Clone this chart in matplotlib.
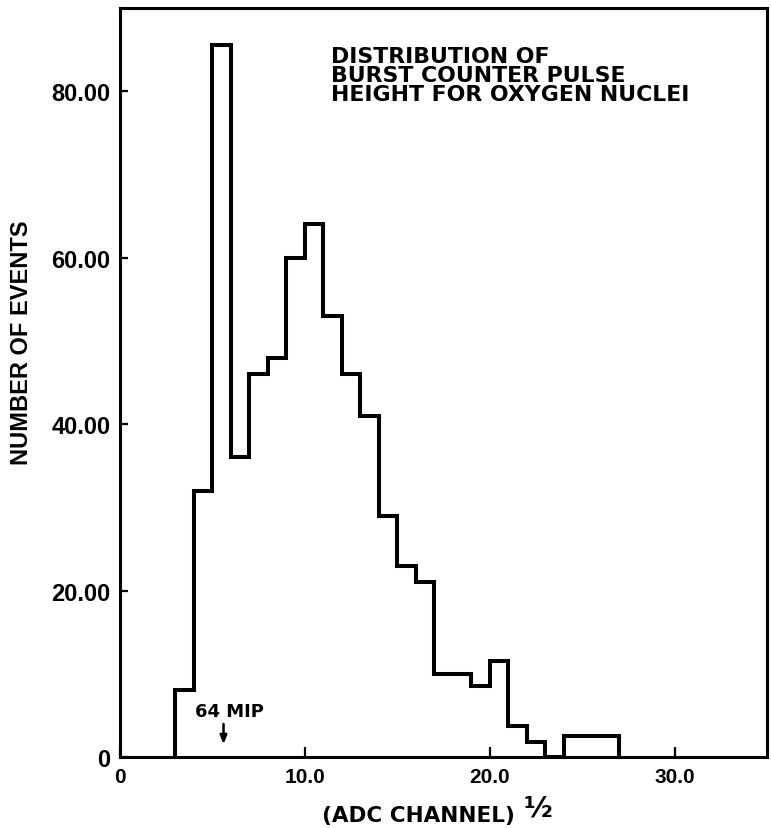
import matplotlib
matplotlib.use("Agg")
import matplotlib.pyplot as plt

plt.rcParams['font.family'] = ['Liberation Sans', 'DejaVu Sans']
plt.rcParams['font.weight'] = 'bold'

# Data
bin_edges = [3, 4, 5, 6, 7, 8, 9, 10, 11, 12, 13, 14, 15, 16, 17, 18, 19, 20, 21, 22, 23, 24, 27]
counts = [8, 32, 85.5, 36, 46, 48, 60, 64, 53, 46, 41, 29, 23, 21, 10, 10, 8.5, 11.5, 3.7, 1.8, 0, 2.5]
x_ticks = [0, 10, 20, 30]
x_tick_labels = ['0', '10.0', '20.0', '30.0']
y_ticks = [0, 20, 40, 60, 80]
y_tick_labels = ['0', '20.00', '40.00', '60.00', '80.00']
title_text = "DISTRIBUTION OF\nBURST COUNTER PULSE\nHEIGHT FOR OXYGEN NUCLEI"
mip_label = "64 MIP"
mip_x = 5.6

W, H = 771, 829
fig = plt.figure(figsize=(W / 100, H / 100), dpi=100)
ax = fig.add_axes([120 / W, 71 / H, 647 / W, 749 / H])

ax.stairs(counts, bin_edges, color='black', linewidth=2.9, baseline=0)

ax.set_xlim(0, 35)
ax.set_ylim(0, 90)
ax.set_xticks(x_ticks)
ax.set_xticklabels(x_tick_labels)
ax.set_yticks(y_ticks)
ax.set_yticklabels(y_tick_labels)
ax.tick_params(axis='x', direction='in', length=7, width=1.6, labelsize=15, pad=7)
ax.tick_params(axis='y', direction='in', length=6, width=1.6, labelsize=17, pad=7)
for lab in ax.get_xticklabels() + ax.get_yticklabels():
    lab.set_fontweight('bold')
for s in ax.spines.values():
    s.set_linewidth(2.2)

wide = ['DejaVu Sans']
ax.text(11.4, 85.4, title_text, fontsize=15.8, fontweight='bold', va='top', ha='left',
        linespacing=0.92, family=wide)

ax.text(mip_x + 0.3, 4.9, mip_label, fontsize=13, fontweight='bold', ha='center', va='baseline',
        family=wide)
ax.annotate('', xy=(mip_x, 1.2), xytext=(mip_x, 4.3),
            arrowprops=dict(arrowstyle='-|>,head_length=0.5,head_width=0.2', color='black', lw=1.8))

fig.text(418 / W, 1 - 822 / H, "(ADC CHANNEL)", fontsize=15.5, fontweight='bold', ha='center',
         va='baseline', family=wide)
fig.text(524 / W, 1 - 817 / H, "½", fontsize=20, fontweight='bold', ha='left', va='baseline',
         family=wide)

fig.text(22 / W, 1 - 343 / H, "NUMBER OF EVENTS", fontsize=17, fontweight='bold', rotation=90,
         ha='center', va='center')

fig.savefig("out.png", dpi=100)
